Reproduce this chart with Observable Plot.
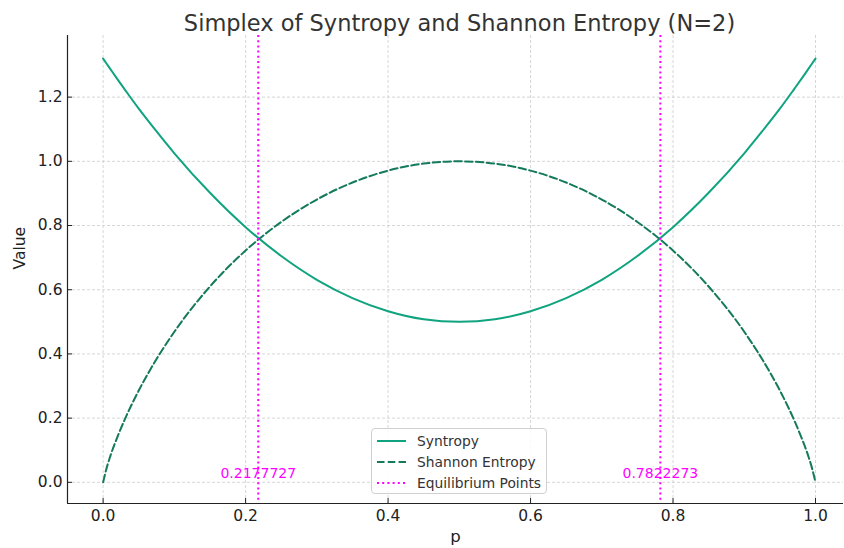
<!DOCTYPE html>
<html>
<head>
<meta charset="utf-8">
<script src="https://cdn.jsdelivr.net/npm/d3@7"></script>
<script src="https://cdn.jsdelivr.net/npm/@observablehq/plot@0.6"></script>
<style>
  html, body { margin: 0; padding: 0; background: #fff; }
  #wrap { position: relative; width: 844px; height: 548px; font-family: "DejaVu Sans", sans-serif; }
  #legend { position: absolute; left: 371px; top: 428px; width: 176px; height: 66px; box-sizing: border-box;
    border: 1px solid #d0d0d0; border-radius: 4px; background: rgba(255,255,255,0.85); }
  .row { position: absolute; left: 5px; height: 20px; display: flex; align-items: center; font-size: 13.8px; color: #333; }
  .row svg { margin-right: 11px; }
</style>
</head>
<body>
<div id="wrap"></div>
<script>
// Data
const pValues = [0, 0.005, 0.01, 0.02, 0.03, 0.05, 0.075, 0.1, 0.15, 0.2, 0.25, 0.3, 0.35, 0.4, 0.45, 0.5,
                 0.55, 0.6, 0.65, 0.7, 0.75, 0.8, 0.85, 0.9, 0.925, 0.95, 0.97, 0.98, 0.99, 0.995, 1];
const syntropy = [1.32, 1.304, 1.288, 1.256, 1.225, 1.164, 1.093, 1.025, 0.902, 0.795, 0.705, 0.631, 0.574, 0.533, 0.508, 0.5,
                  0.508, 0.533, 0.574, 0.631, 0.705, 0.795, 0.902, 1.025, 1.093, 1.164, 1.225, 1.256, 1.288, 1.304, 1.32];
const shannon = [0, 0.045, 0.081, 0.141, 0.194, 0.286, 0.384, 0.469, 0.610, 0.722, 0.811, 0.881, 0.934, 0.971, 0.993, 1.0,
                 0.993, 0.971, 0.934, 0.881, 0.811, 0.722, 0.610, 0.469, 0.384, 0.286, 0.194, 0.141, 0.081, 0.045, 0];
const equilibrium = [0.2177727, 0.7822273];
const xTicks = [0, 0.2, 0.4, 0.6, 0.8, 1.0];
const yTicks = [0, 0.2, 0.4, 0.6, 0.8, 1.0, 1.2];
const seriesNames = ["Syntropy", "Shannon Entropy", "Equilibrium Points"];
const seriesColors = ["#10a37f", "#147a5c", "#ff00ff"];
const seriesDash = [null, "7.5,3.3", "2,3.2"];

const rows = pValues.map((p, i) => ({p, s: syntropy[i], h: shannon[i]}));
const xDomain = [-0.05, 1.0393];
const yDomain = [-0.066, 1.392];
const gridStyle = {stroke: "#cccccc", strokeWidth: 0.8, strokeDasharray: "3,2", strokeOpacity: 1};
const fmt = d3.format(".1f");

const chart = Plot.plot({
  width: 844,
  height: 548,
  marginTop: 35,
  marginBottom: 45,
  marginLeft: 67,
  marginRight: 1,
  style: {fontFamily: "DejaVu Sans, sans-serif", fontSize: "14px", color: "#222", background: "#fff"},
  x: {domain: xDomain, label: null},
  y: {domain: yDomain, label: null},
  marks: [
    Plot.gridX(xTicks, gridStyle),
    Plot.gridY(yTicks, gridStyle),
    Plot.ruleX([xDomain[0]], {stroke: "#222", strokeWidth: 1.2}),
    Plot.ruleY([yDomain[0]], {stroke: "#222", strokeWidth: 1.2}),
    Plot.line(rows, {x: "p", y: "s", stroke: seriesColors[0], strokeWidth: 2, curve: "monotone-x"}),
    Plot.line(rows, {x: "p", y: "h", stroke: seriesColors[1], strokeWidth: 2, strokeDasharray: seriesDash[1], curve: "monotone-x"}),
    Plot.ruleX(equilibrium, {stroke: seriesColors[2], strokeWidth: 2, strokeDasharray: seriesDash[2]}),
    Plot.text(equilibrium, {x: d => d, y: 0.02, text: d => d.toFixed(7), fill: seriesColors[2], fontSize: 14, lineAnchor: "bottom", dy: 2}),
    Plot.axisX(xTicks, {tickFormat: () => "", tickSize: -5, stroke: "#222", label: null}),
    Plot.axisY(yTicks, {tickFormat: () => "", tickSize: -5, stroke: "#222", label: null}),
    Plot.text(xTicks, {x: d => d, frameAnchor: "bottom", text: fmt, lineAnchor: "top", dy: 6, fontSize: 15.5, fill: "#222"}),
    Plot.text(yTicks, {y: d => d, frameAnchor: "left", text: fmt, textAnchor: "end", dx: -5, fontSize: 15.5, fill: "#222"}),
    Plot.text(["p"], {frameAnchor: "bottom", dy: 38, fontSize: 16.5, fill: "#222"}),
    Plot.text(["Value"], {frameAnchor: "left", dx: -47, rotate: -90, fontSize: 15.5, fill: "#222"}),
    Plot.text(["Simplex of Syntropy and Shannon Entropy (N=2)"], {frameAnchor: "top", dy: -20, dx: 4, fontSize: 22.5, fill: "#333"})
  ]
});

const wrap = document.getElementById("wrap");
wrap.appendChild(chart);

const legend = document.createElement("div");
legend.id = "legend";
seriesNames.forEach((name, i) => {
  const row = document.createElement("div");
  row.className = "row";
  row.style.top = (2 + i * 21) + "px";
  const dash = seriesDash[i] ? `stroke-dasharray="${seriesDash[i]}"` : "";
  row.innerHTML = `<svg width="29" height="4"><line x1="0" y1="2" x2="29" y2="2" stroke="${seriesColors[i]}" stroke-width="2" ${dash}/></svg><span>${name}</span>`;
  legend.appendChild(row);
});
wrap.appendChild(legend);
</script>
</body>
</html>
